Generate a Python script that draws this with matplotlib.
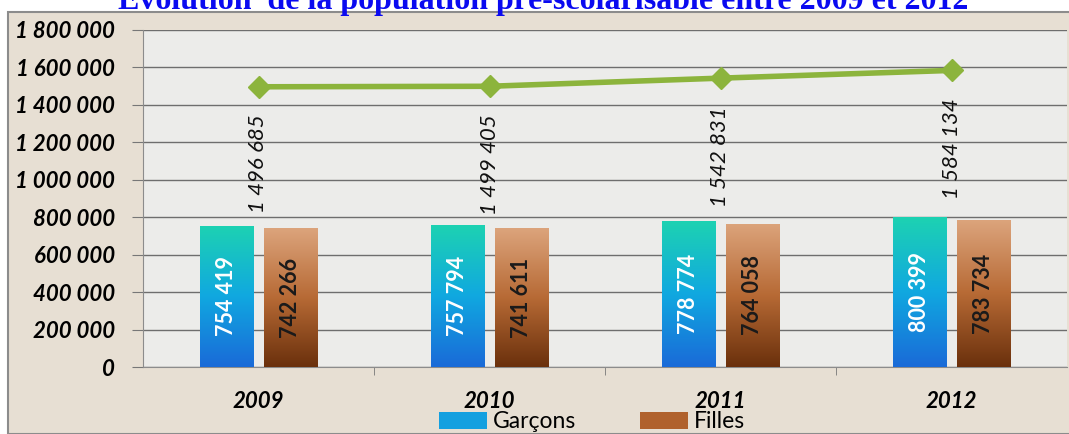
import numpy as np
import matplotlib
matplotlib.use("Agg")
import matplotlib.pyplot as plt
from matplotlib.colors import LinearSegmentedColormap
from matplotlib.patches import Rectangle, Patch

# --- data ---
years = ["2009", "2010", "2011", "2012"]
garcons = [754419, 757794, 778774, 800399]
filles = [742266, 741611, 764058, 783734]
totals = [1496685, 1499405, 1542831, 1584134]
yticks = [0, 200000, 400000, 600000, 800000, 1000000, 1200000, 1400000, 1600000, 1800000]


def fmt(v):
    return f"{v:,}".replace(",", " ")


plt.rcParams["font.family"] = ["Lato", "DejaVu Sans"]

W, H = 1069, 434
fig = plt.figure(figsize=(W / 100, H / 100), dpi=100)
fig.patch.set_facecolor("white")

# outer chart frame (beige)
frame = Rectangle((8 / W, 0), 1.2, 1 - 12 / H, transform=fig.transFigure,
                  facecolor="#e7dfd3", edgecolor="#8c8c8c", lw=1.5, zorder=-10)
fig.patches.append(frame)

ax = fig.add_axes([143 / W, 1 - 367 / H, 924 / W, 337 / H])
ax.set_facecolor("#ececea")

x = np.arange(len(years))
bw = 0.23
off = 0.137

cm_g = LinearSegmentedColormap.from_list("g", ["#1a6ad8", "#10a8e0", "#1dd2b2"])
cm_f = LinearSegmentedColormap.from_list("f", ["#6a300c", "#b76a35", "#dca47c"])


def grad_bars(xs, vals, cmap):
    bars = ax.bar(xs, vals, bw, color="none", edgecolor="none", zorder=3)
    grad = np.linspace(0, 1, 256).reshape(-1, 1)
    for b in bars:
        x0, y0 = b.get_x(), b.get_y()
        im = ax.imshow(grad, cmap=cmap, origin="lower", aspect="auto",
                       extent=(x0, x0 + b.get_width(), y0, y0 + b.get_height()),
                       zorder=3)
        im.set_clip_path(b)
    return bars


bg = grad_bars(x - off, garcons, cm_g)
bf = grad_bars(x + off, filles, cm_f)

for xi, v in zip(x - off, garcons):
    ax.text(xi, v / 2, fmt(v), rotation=90, ha="center", va="center",
            color="white", fontsize=15.5, fontweight="bold", zorder=5)
for xi, v in zip(x + off, filles):
    ax.text(xi, v / 2, fmt(v), rotation=90, ha="center", va="center",
            color="#1a1a1a", fontsize=15.5, fontweight="bold", zorder=5)

ax.plot(x, totals, color="#8cb43c", lw=4, marker="D", markersize=11, zorder=4)
for xi, v in zip(x, totals):
    ax.annotate(fmt(v), (xi, v), xytext=(0, -20), textcoords="offset points",
                rotation=90, ha="center", va="top", fontsize=16,
                fontstyle="italic", color="#111111", zorder=5)

ax.set_xlim(-0.5, 3.5)
ax.set_ylim(0, 1800000)
ax.set_yticks(yticks)
ax.set_yticklabels([fmt(v) for v in yticks], fontsize=16, fontweight="bold",
                   fontstyle="italic")
ax.set_xticks(x)
ax.set_xticklabels(years, fontsize=16, fontweight="bold", fontstyle="italic")
ax.set_xticks([0.5, 1.5, 2.5], minor=True)
ax.tick_params(axis="x", which="major", length=0, pad=17)
ax.tick_params(axis="x", which="minor", length=6, color="#777777")
ax.tick_params(axis="y", length=8, color="#777777", pad=12)
ax.grid(axis="y", color="#6e6e6e", lw=1, zorder=1)
ax.set_axisbelow(True)
for s in ["top", "right"]:
    ax.spines[s].set_visible(False)
ax.spines["left"].set_color("#8c8c8c")
ax.spines["bottom"].set_color("#8c8c8c")

# legend with gradient-like patches
lg = ax.legend(handles=[Patch(facecolor="#14a0e0", label="Garçons"),
                        Patch(facecolor="#b0612c", label="Filles")],
               loc="center", bbox_to_anchor=(592 / W, 1 - 422 / H),
               bbox_transform=fig.transFigure, ncol=2, frameon=False,
               fontsize=16.5, handlelength=2.1, handleheight=0.8,
               handletextpad=0.25, columnspacing=2.8, borderpad=0.1)

fig.text(543 / W, 1 - 9 / H,
         "Evolution  de la population pré-scolarisable entre 2009 et 2012",
         ha="center", va="baseline", color="#0a0af0", fontsize=23,
         fontweight="bold", family="Liberation Serif")

fig.savefig("out.png", dpi=100)
